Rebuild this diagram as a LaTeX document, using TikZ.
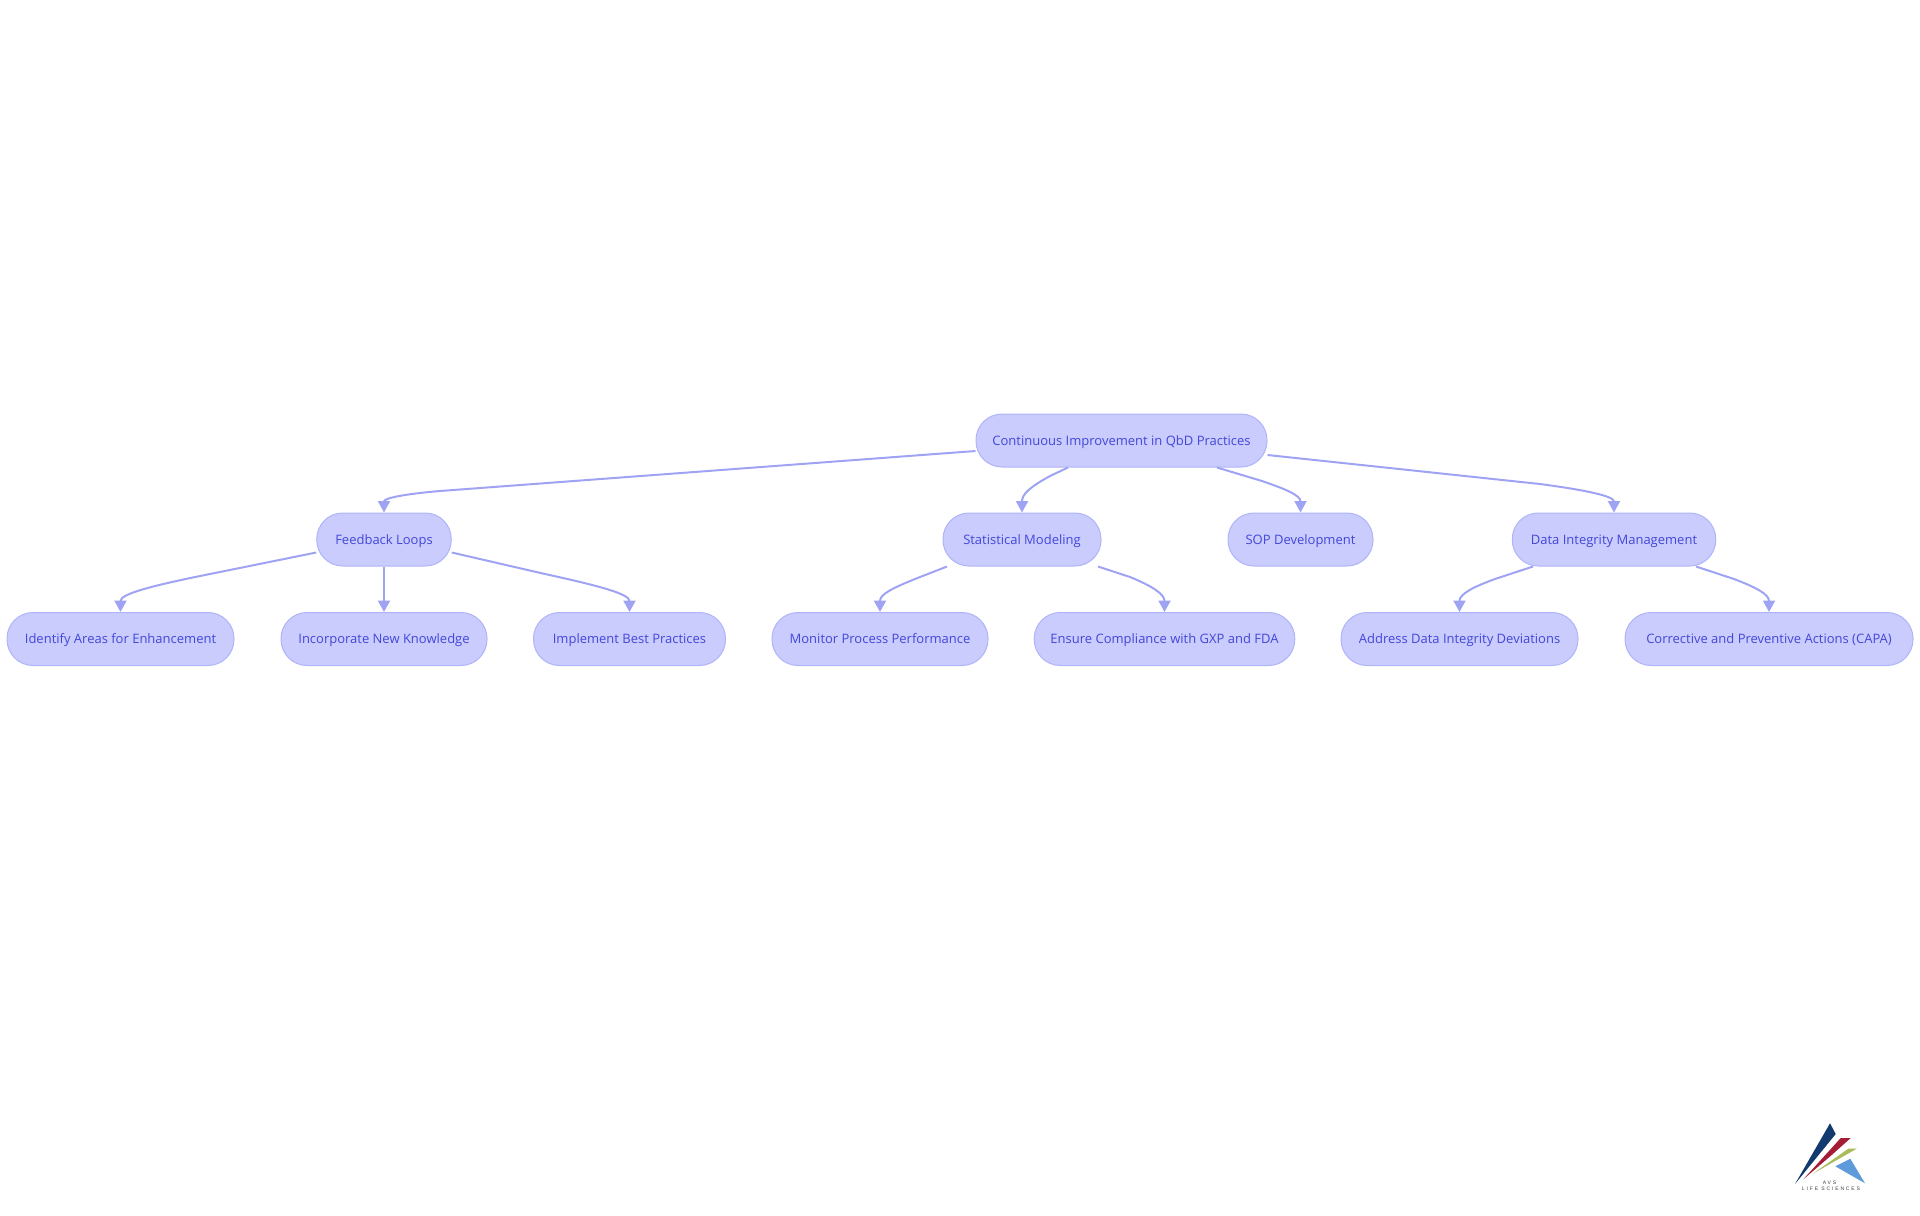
\documentclass[tikz,border=0pt]{standalone}
\usepackage{fontspec}
\setmainfont{Open Sans}
\newfontfamily\logofont[LetterSpace=36]{Liberation Sans}
\usetikzlibrary{arrows.meta,calc}
\definecolor{pillfill}{HTML}{C9CCFC}
\definecolor{pillline}{HTML}{B0B4F8}
\definecolor{pilltext}{HTML}{4347D9}
\definecolor{edgecol}{HTML}{9FA3F3}
\definecolor{logonavy}{HTML}{123A6E}
\definecolor{logored}{HTML}{A51C36}
\definecolor{logogreen}{HTML}{A9BC5C}
\definecolor{logoblue}{HTML}{5F9BDB}
\tikzset{
  pill/.style={draw=pillline,fill=pillfill,line width=0.75pt,rounded corners=19.5pt,
    minimum height=39.75pt,inner sep=0pt,text=pilltext,text height=9pt,text depth=2.2pt,font=\fontsize{9.75}{12}\selectfont},
  edgeline/.style={draw=edgecol,line width=1.5pt,-{Triangle[length=8.6pt,width=9pt,fill=edgecol]}},
  logotext/.style={inner sep=0pt,text=black!75,font=\logofont\fontsize{3.8}{5}\selectfont}
}
\begin{document}
\begin{tikzpicture}[x=0.75pt,y=-0.75pt]
\useasboundingbox (0,0) rectangle (1920,1215);
\node[pill,minimum width=218.25pt] (root) at (1121.5,440.5) {Continuous Improvement in QbD Practices};
\node[pill,minimum width=100.9pt] (fb) at (384,539.5) {Feedback Loops};
\node[pill,minimum width=118.5pt] (stat) at (1022,539.5) {Statistical Modeling};
\node[pill,minimum width=108.75pt] (sop) at (1300.5,539.5) {SOP Development};
\node[pill,minimum width=152.6pt] (data) at (1614,539.5) {Data Integrity Management};
\node[pill,minimum width=170.25pt] (ident) at (120.5,639) {Identify Areas for Enhancement};
\node[pill,minimum width=154.5pt] (incorp) at (384,639) {Incorporate New Knowledge};
\node[pill,minimum width=144pt] (impl) at (629.5,639) {Implement Best Practices};
\node[pill,minimum width=162pt] (mon) at (880,639) {Monitor Process Performance};
\node[pill,minimum width=195.4pt] (ens) at (1164.5,639) {Ensure Compliance with GXP and FDA};
\node[pill,minimum width=177.75pt] (addr) at (1459.5,639) {Address Data Integrity Deviations};
\node[pill,minimum width=216pt] (capa) at (1769,639) {Corrective and Preventive Actions (CAPA)};

\draw[edgeline] ($(root.west)+(0,10.5)$) -- (440,491) .. controls (405,494) and (384,498) .. (fb.north);
\draw[edgeline] ($(root.south)+(-53.5,0)$) -- (1050,476) .. controls (1030,487) and (1022,494) .. (stat.north);
\draw[edgeline] ($(root.south)+(95.5,0)$) -- (1262,481) .. controls (1285,489) and (1300.5,495) .. (sop.north);
\draw[edgeline] ($(root.east)+(0,14.5)$) -- (1540,484) .. controls (1585,490) and (1614,496) .. (data.north);
\draw[edgeline] ($(fb.west)+(0,13)$) -- (210,574) .. controls (150,586) and (120.5,594) .. (ident.north);
\draw[edgeline] (fb.south) -- (incorp.north);
\draw[edgeline] ($(fb.east)+(0,13)$) -- (545,574) .. controls (600,586) and (629.5,594) .. (impl.north);
\draw[edgeline] ($(stat.south)+(-75,0)$) -- (915,579) .. controls (893,588) and (880,594) .. (mon.north);
\draw[edgeline] ($(stat.south)+(76,0)$) -- (1130,577) .. controls (1152,586) and (1164.5,594) .. (ens.north);
\draw[edgeline] ($(data.south)+(-81,0)$) -- (1495,579) .. controls (1473,587) and (1459.5,594) .. (addr.north);
\draw[edgeline] ($(data.south)+(82,0)$) -- (1734,579) .. controls (1755,587) and (1769,594) .. (capa.north);

\fill[logonavy] (1830,1123.3) -- (1835.7,1134) -- (1795,1184) -- cycle;
\fill[logored] (1840.7,1138) -- (1850.7,1138) -- (1831.7,1155) -- (1803.3,1179.3) -- cycle;
\fill[logogreen] (1848.3,1148.7) -- (1856.7,1148.7) -- (1812.3,1174) -- cycle;
\fill[logoblue] (1850.3,1158.7) -- (1865,1183.3) -- (1835.3,1166.3) -- cycle;
\node[logotext] (logoa) at (1829.5,1182.7) {AVS};
\node[logotext] (logob) at (1831,1189) {LIFE SCIENCES};
\end{tikzpicture}
\end{document}
